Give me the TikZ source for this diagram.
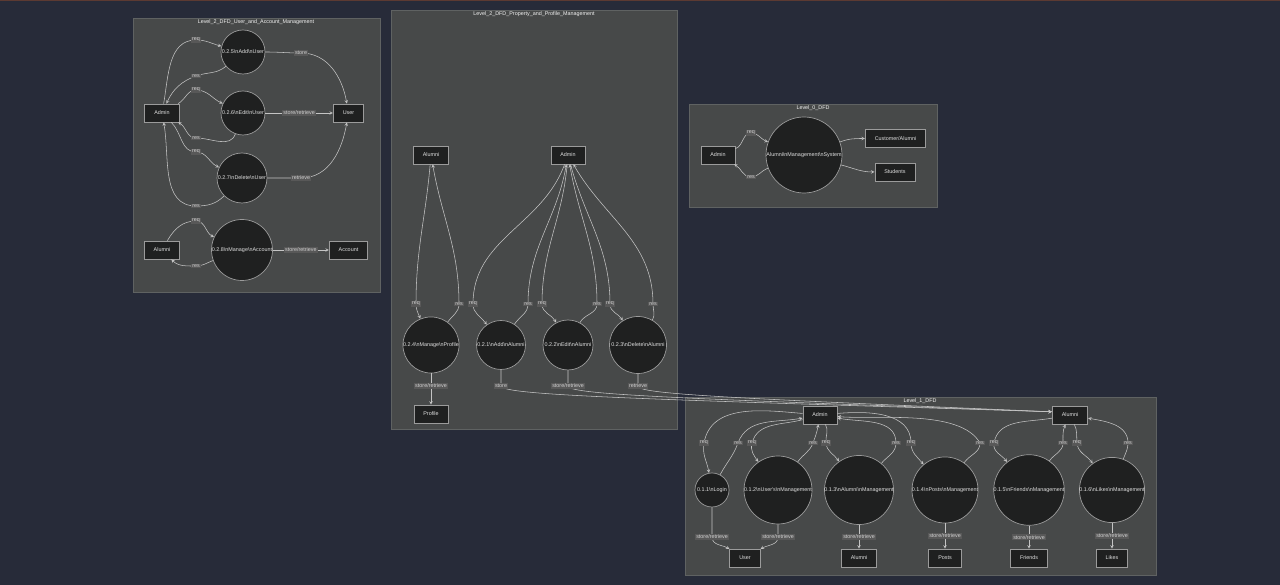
\documentclass[tikz,border=0pt]{standalone}
\usepackage{fontspec}
\setmainfont{Liberation Sans}

\definecolor{pagebg}{HTML}{272B39}
\definecolor{topband}{HTML}{5C3A32}
\definecolor{clusterbg}{HTML}{474949}
\definecolor{clusterline}{HTML}{5F6262}
\definecolor{nodebg}{HTML}{1F2020}
\definecolor{nodeline}{HTML}{9B9B9B}
\definecolor{flowline}{HTML}{C4C4C4}
\definecolor{labelbg}{HTML}{585858}
\definecolor{labeltext}{HTML}{D0D0D0}

\newcommand{\dfdbr}{\textbackslash n}

\begin{document}
\begin{tikzpicture}[x=1pt, y=1pt, >=stealth,
  font=\fontsize{5.4}{6.5}\selectfont,
  cluster/.style={fill=clusterbg, draw=clusterline, line width=0.8pt},
  ctitle/.style={text=white!95!black},
  entity/.style={draw=nodeline, fill=nodebg, line width=0.7pt, text=white!88!black,
    minimum height=18pt, inner xsep=9.5pt, inner ysep=0pt},
  process/.style={circle, draw=nodeline, fill=nodebg, line width=0.7pt,
    text=white!88!black, inner sep=0pt, minimum size=#1},
  flow/.style={->, draw=flowline, line width=0.55pt},
  lbl/.style={fill=labelbg, text=labeltext, inner sep=1pt}]

  % Page
  \useasboundingbox (0,0) rectangle (1280,585);
  \fill[pagebg] (0,0) rectangle (1280,585);
  \fill[topband] (0,583.5) rectangle (1280,585);

  % Clusters
  \draw[cluster] (133,293) rectangle (380,567);
  \node[ctitle] (t1) at (256,563) {Level\_2\_DFD\_User\_and\_Account\_Management};
  \draw[cluster] (391,156) rectangle (677,575);
  \node[ctitle] (t2) at (534,571) {Level\_2\_DFD\_Property\_and\_Profile\_Management};
  \draw[cluster] (689,378) rectangle (937,481);
  \node[ctitle] (t0) at (813,477) {Level\_0\_DFD};
  \draw[cluster] (685,10) rectangle (1156,188);
  \node[ctitle] (tl1) at (920,184) {Level\_1\_DFD};

  % User and account management
  \node[entity] (c1admin) at (162,472) {Admin};
  \node[process=44pt] (p25) at (243,533) {0.2.5\dfdbr Add\dfdbr User};
  \node[process=44pt] (p26) at (243,472) {0.2.6\dfdbr Edit\dfdbr User};
  \node[process=50pt] (p27) at (242,407) {0.2.7\dfdbr Delete\dfdbr User};
  \node[entity] (c1user) at (348.5,472) {User};
  \node[entity] (c1alumni) at (162,335) {Alumni};
  \node[process=61pt] (p28) at (242,335) {0.2.8\dfdbr Manage\dfdbr Account};
  \node[entity] (c1account) at (348.5,335) {Account};

  \draw[flow] (c1admin) to[out=80,in=180] (196,545) node[lbl]{req} to[out=0,in=165] (p25);
  \draw[flow] (p25) to[out=220,in=20] (196,509) node[lbl]{res} to[out=200,in=65] (c1admin);
  \draw[flow] (c1admin) to[out=30,in=180] (196,495) node[lbl]{req} to[out=0,in=155] (p26);
  \draw[flow] (p26) to[out=250,in=0] (196,447) node[lbl]{res} to[out=180,in=-30] (c1admin);
  \draw[flow] (c1admin) to[out=-45,in=180] (196,433) node[lbl]{req} to[out=0,in=155] (p27);
  \draw[flow] (p27) to[out=225,in=0] (196,379) node[lbl]{res} to[out=180,in=-80] (c1admin);
  \draw[flow] (c1alumni) to[out=60,in=180] (196,364) node[lbl]{req} to[out=0,in=155] (p28);
  \draw[flow] (p28) to[out=200,in=0] (196,319) node[lbl]{res} to[out=180,in=-45] (c1alumni);
  \draw[flow] (p25) to[out=0,in=180] (301,532) node[lbl]{store} to[out=0,in=100] (c1user);
  \draw[flow] (p26) -- node[lbl]{store/retrieve} (c1user);
  \draw[flow] (p27) to[out=0,in=180] (301,407) node[lbl]{retrieve} to[out=0,in=-100] (c1user);
  \draw[flow] (p28) -- node[lbl]{store/retrieve} (c1account);

  % Property and profile management
  \node[entity] (c2alumni) at (431,430) {Alumni};
  \node[entity] (c2admin) at (568,430) {Admin};
  \node[process=56pt] (p24) at (431,240) {0.2.4\dfdbr Manage\dfdbr Profile};
  \node[process=49pt] (p21) at (501,240) {0.2.1\dfdbr Add\dfdbr Alumni};
  \node[process=50pt] (p22) at (568,240) {0.2.2\dfdbr Edit\dfdbr Alumni};
  \node[process=57pt] (p23) at (638,240) {0.2.3\dfdbr Delete\dfdbr Alumni};
  \node[entity] (c2profile) at (431,171) {Profile};

  \draw[flow] (c2alumni) to[out=-95,in=90] (416,281) node[lbl]{req} to[out=-90,in=112] (p24);
  \draw[flow] (p24) to[out=54,in=-90] (459,281) node[lbl]{res} to[out=90,in=-80] (c2alumni);
  \draw[flow] (c2admin) to[out=-110,in=90] (473,281) node[lbl]{req} to[out=-90,in=125] (p21);
  \draw[flow] (p21) to[out=57,in=-90] (528,281) node[lbl]{res} to[out=90,in=-100] (c2admin);
  \draw[flow] (c2admin) to[out=-95,in=90] (542,281) node[lbl]{req} to[out=-90,in=118] (p22);
  \draw[flow] (p22) to[out=62,in=-90] (597,281) node[lbl]{res} to[out=90,in=-80] (c2admin);
  \draw[flow] (c2admin) to[out=-75,in=90] (610,281) node[lbl]{req} to[out=-90,in=122] (p23);
  \draw[flow] (p23) to[out=60,in=-90] (653,281) node[lbl]{res} to[out=90,in=-60] (c2admin);
  \draw[flow] (p24) -- node[lbl,pos=0.4]{store/retrieve} (c2profile);

  % Context level
  \node[entity] (l0admin) at (718,430) {Admin};
  \node[process=76pt] (sys) at (804,430) {Alumni\dfdbr Management\dfdbr System};
  \node[entity] (l0cust) at (895.5,446.5) {Customer/Alumni};
  \node[entity] (l0stud) at (895,413) {Students};

  \draw[flow] (l0admin) to[out=20,in=180] (751,452) node[lbl]{req} to[out=0,in=160] (sys);
  \draw[flow] (sys) to[out=200,in=0] (751,408) node[lbl]{res} to[out=180,in=-30] (l0admin);
  \draw[flow] (sys) to[out=20,in=180] (l0cust);
  \draw[flow] (sys) to[out=-15,in=180] (l0stud);

  % Level 1
  \node[entity] (l1admin) at (820,170) {Admin};
  \node[entity] (l1alumni) at (1070,170) {Alumni};
  \node[process=34pt] (p11) at (712,95) {0.1.1\dfdbr Login};
  \node[process=68pt] (p12) at (778,95) {0.1.2\dfdbr User\textquotesingle s\dfdbr Management};
  \node[process=69pt] (p13) at (859,95) {0.1.3\dfdbr Alumni\dfdbr Management};
  \node[process=64pt] (p14) at (945,95) {0.1.4\dfdbr Posts\dfdbr Management};
  \node[process=69pt] (p15) at (1029,95) {0.1.5\dfdbr Friends\dfdbr Management};
  \node[process=63pt] (p16) at (1112,95) {0.1.6\dfdbr Likes\dfdbr Management};
  \node[entity] (l1user) at (745,27) {User};
  \node[entity] (l1alumnidb) at (859,27) {Alumni};
  \node[entity] (l1posts) at (945,27) {Posts};
  \node[entity] (l1friends) at (1029,27) {Friends};
  \node[entity] (l1likes) at (1112,27) {Likes};

  \draw[flow] (l1admin) to[out=175,in=80] (704,142) node[lbl]{req} to[out=-100,in=100] (p11);
  \draw[flow] (p11) to[out=62,in=-110] (738,142) node[lbl]{res} to[out=70,in=190] (l1admin);
  \draw[flow] (l1admin) to[out=195,in=75] (752,142) node[lbl]{req} to[out=-105,in=125] (p12);
  \draw[flow] (p12) to[out=55,in=-110] (813,142) node[lbl]{res} to[out=70,in=-100] (l1admin);
  \draw[flow] (l1admin) to[out=-60,in=95] (826,142) node[lbl]{req} to[out=-85,in=125] (p13);
  \draw[flow] (p13) to[out=50,in=-90] (896,142) node[lbl]{res} to[out=90,in=-10] (l1admin);
  \draw[flow] (l1admin) to[out=5,in=90] (911,142) node[lbl]{req} to[out=-90,in=130] (p14);
  \draw[flow] (p14) to[out=55,in=-90] (980,142) node[lbl]{res} to[out=120,in=-5,looseness=0.7] (l1admin);
  \draw[flow] (l1alumni) to[out=190,in=80] (994,142) node[lbl]{req} to[out=-100,in=128] (p15);
  \draw[flow] (p15) to[out=55,in=-90] (1063,142) node[lbl]{res} to[out=90,in=-115] (l1alumni);
  \draw[flow] (l1alumni) to[out=-65,in=95] (1077,142) node[lbl]{req} to[out=-85,in=126] (p16);
  \draw[flow] (p16) to[out=70,in=-90] (1128,142) node[lbl]{res} to[out=90,in=-10] (l1alumni);

  \draw[flow] (p11) -- ++(0,-47) node[lbl]{store/retrieve} to[out=-90,in=150] (l1user);
  \draw[flow] (p12) -- ++(0,-47) node[lbl]{store/retrieve} to[out=-90,in=30] (l1user);
  \draw[flow] (p13) -- node[lbl]{store/retrieve} (l1alumnidb);
  \draw[flow] (p14) -- node[lbl]{store/retrieve} (l1posts);
  \draw[flow] (p15) -- node[lbl]{store/retrieve} (l1friends);
  \draw[flow] (p16) -- node[lbl]{store/retrieve} (l1likes);

  % Level 2 processes feeding the Level 1 alumni store
  \draw[flow] (p21) -- ++(0,-41) node[lbl]{store} .. controls +(0,-10) and +(-380,12) .. (l1alumni.170);
  \draw[flow] (p22) -- ++(0,-41) node[lbl]{store/retrieve} .. controls +(0,-9) and +(-360,13) .. (l1alumni.170);
  \draw[flow] (p23) -- ++(0,-41) node[lbl]{retrieve} .. controls +(0,-8) and +(-330,14) .. (l1alumni.170);
\end{tikzpicture}
\end{document}
